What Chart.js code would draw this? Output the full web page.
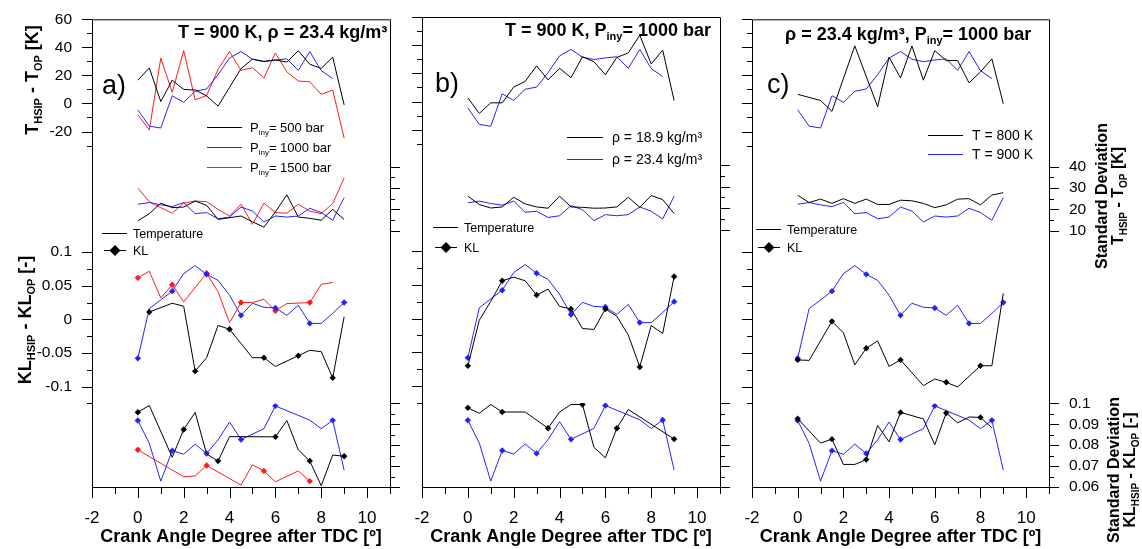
<!DOCTYPE html>
<html>
<head>
<meta charset="utf-8">
<script src="https://cdn.jsdelivr.net/npm/chart.js@4"></script>
<style>
  html, body { margin: 0; padding: 0; background: #fff; }
  #wrap { position: relative; width: 1142px; height: 549px; }
  #wrap canvas { position: absolute; left: 0; top: 0; }
</style>
</head>
<body>
<div id="wrap">
  <canvas id="panelA" width="1142" height="549"></canvas>
  <canvas id="panelB" width="1142" height="549"></canvas>
  <canvas id="panelC" width="1142" height="549"></canvas>
</div>
<script>
// tick positions and labelled ticks
var X_TICKS = [-2, -1, 0, 1, 2, 3, 4, 5, 6, 7, 8, 9, 10, 11];
var X_LABELS = [-2, 0, 2, 4, 6, 8, 10];
var TM_TICKS = [-30, -20, -10, 0, 10, 20, 30, 40, 50, 60];
var TM_LABELS = [-20, 0, 20, 40, 60];
var TS_TICKS = [10, 15, 20, 25, 30, 35, 40];
var TS_LABELS = [10, 20, 30, 40];
var KM_TICKS = [-0.125, -0.1, -0.075, -0.05, -0.025, 0, 0.025, 0.05, 0.075, 0.1];
var KM_LABELS = [-0.1, -0.05, 0, 0.05, 0.1];
var KS_TICKS = [0.06, 0.065, 0.07, 0.075, 0.08, 0.085, 0.09, 0.095, 0.1];
var KS_LABELS = [0.06, 0.07, 0.08, 0.09, 0.1];

// crank angle samples
var CAD = [0, 0.5, 1, 1.5, 2, 2.5, 3, 3.5, 4, 4.5, 5, 5.5, 6, 6.5, 7, 7.5, 8, 8.5, 9];
var CAD_85 = CAD.slice(0, 18);

// base case: T = 900 K, rho = 23.4 kg/m3, Piny = 1000 bar (blue in every panel)
var base_tMean = [-4.5, -16.2, -17.5, 5.5, 0.8, 8.7, 10.3, 20.5, 32.4, 37, 31.5, 29.8, 31, 31.8, 23.6, 37, 23.4, 17.8];
var base_tStd = [22.4, 23.2, 22.1, 21.3, 23.2, 18, 18.5, 15.6, 16.4, 21.1, 19.2, 14.1, 16.9, 16.4, 16.9, 20.5, 18.5, 14.9, 25.5];
var base_klMean = [-0.058, 0.016, 0.029, 0.042, 0.068, 0.08, 0.067, 0.058, 0.036, 0.006, 0.024, 0.018, 0.017, 0.006, 0.021, -0.006, -0.006, 0.009, 0.025];
var base_klMeanMarks = [0, 1.5, 3, 4.5, 6, 7.5, 9];
var base_klStdX = [0, 0.5, 1, 1.5, 2, 2.5, 3, 3.5, 4, 4.5, 5.5, 6, 7.5, 8, 8.5, 9];
var base_klStd = [0.0918, 0.0809, 0.0628, 0.0774, 0.0757, 0.0805, 0.076, 0.0826, 0.0911, 0.0827, 0.0879, 0.0988, 0.092, 0.0879, 0.0919, 0.068];
var base_klStdMarks = [0, 1.5, 3, 4.5, 6, 8.5];

// a) Piny = 500 bar
var p500_tMean = [16.6, 25.3, 1.4, 16.6, 10, 9.6, 5.4, -1.9, 11.5, 24.8, 31.6, 30, 31, 29.5, 37.6, 28, 25, 33, -1];
var p500_tStd = [14.6, 18, 22.9, 20.8, 21.1, 23.9, 21.9, 15.3, 16.1, 16.9, 14.2, 11.7, 18.8, 26.8, 16.4, 15.8, 14.9, 20, 15.3];
var p500_klMeanX = [0.5, 1.5, 2, 2.5, 3, 3.5, 4, 5, 5.5, 6, 7, 7.5, 8, 8.5, 9];
var p500_klMean = [0.011, 0.024, 0.0196, -0.077, -0.057, -0.009, -0.0147, -0.057, -0.057, -0.07, -0.054, -0.046, -0.048, -0.087, 0.004];
var p500_klMeanMarks = [0.5, 2.5, 4, 5.5, 7, 8.5];
var p500_klStdX = [0, 0.5, 1.5, 2, 2.5, 3, 3.5, 4, 6, 6.5, 7, 7.5, 8, 8.5, 9];
var p500_klStd = [0.0958, 0.099, 0.0742, 0.0875, 0.0957, 0.0758, 0.0724, 0.0841, 0.084, 0.0918, 0.0777, 0.0725, 0.0606, 0.0753, 0.0747];
var p500_klStdMarks = [0, 2, 3.5, 6, 7.5, 9];

// a) Piny = 1500 bar
var p1500_tMean = [-8, -19, 32.3, 8, 37.7, 2.6, 5.6, 24.3, 37, 23.6, 25.5, 18.2, 36, 22.5, 16, 15.4, 6.5, 9.6, -24.8];
var p1500_tStd = [29.9, 23.6, 20.8, 18.2, 22.9, 23.9, 23.6, 20, 16.9, 22.4, 13, 22.9, 18.5, 18.2, 22.4, 19.2, 18, 22.7, 34.6];
var p1500_klMeanX = [0, 0.5, 1, 1.5, 2, 3, 3.5, 4, 4.5, 5, 5.5, 6, 6.5, 7.5, 8, 8.5];
var p1500_klMean = [0.0618, 0.0716, 0.032, 0.0515, 0.026, 0.0686, 0.041, -0.005, 0.025, 0.025, 0.03, 0.0127, 0.0235, 0.025, 0.052, 0.055];
var p1500_klMeanMarks = [0, 1.5, 3, 4.5, 6, 7.5];
var p1500_klStdX = [0, 2, 2.5, 3, 4.5, 5, 5.5, 6, 7, 7.5];
var p1500_klStd = [0.0778, 0.0649, 0.0653, 0.0703, 0.0609, 0.0706, 0.0677, 0.0625, 0.0677, 0.0628];
var p1500_klStdMarks = [0, 3, 5.5, 7.5];

// b) rho = 18.9 kg/m3
var r189_tMean = [2.6, -8.4, -0.9, -0.9, 10.3, 14.3, 25.3, 15.4, 23.6, 17, 31.8, 28.3, 19, 31.3, 34.6, 47, 26.7, 36.5, 0.7];
var r189_tStd = [25.5, 21.6, 20, 20.5, 25, 21.9, 20.5, 19.9, 25.5, 20.5, 20.3, 19.9, 20, 20.5, 25, 20.3, 25.8, 23.9, 17.4];
var r189_klMean = [-0.07, -0.0025, 0.0255, 0.0559, 0.0613, 0.0559, 0.0348, 0.0436, 0.018, 0.0142, -0.0147, -0.0162, 0.0142, 0.0034, -0.0245, -0.0716, -0.0103, -0.022, 0.0623];
var r189_klMeanMarks = [0, 1.5, 3, 4.5, 6, 7.5, 9];
var r189_klStdX = [0, 0.5, 1, 1.5, 2.5, 3.5, 4, 4.5, 5, 5.5, 6, 6.5, 7, 9];
var r189_klStd = [0.0977, 0.0951, 0.0993, 0.0957, 0.0957, 0.088, 0.0957, 0.0993, 0.0993, 0.0789, 0.0739, 0.088, 0.0969, 0.0828];
var r189_klStdMarks = [0, 1.5, 3.5, 5, 6.5, 9];

// c) T = 800 K
var t800_tMeanX = [0, 1, 1.5, 2.5, 3.5, 4, 4.5, 5, 5.5, 6, 6.5, 7, 7.5, 8, 8.5, 9];
var t800_tMean = [6.5, 2.1, -5.6, 41, -2.3, 33, 18.2, 41, 16.6, 37.7, 30.6, 30.6, 14.7, 22.5, 31.8, -0.2];
var t800_tStd = [26.6, 23.2, 24.8, 22.8, 25, 22.8, 24.8, 22.3, 22.3, 24.3, 24, 22.8, 20.8, 22.1, 24.8, 25, 22.1, 26.7, 27.8];
var t800_klMeanX = [0, 0.5, 1.5, 2, 2.5, 3, 3.5, 4, 4.5, 5.5, 6, 6.5, 7, 8, 8.5, 9];
var t800_klMean = [-0.0603, -0.061, -0.0029, -0.02, -0.0676, -0.043, -0.032, -0.07, -0.0603, -0.0985, -0.0887, -0.0936, -0.1005, -0.069, -0.069, 0.0387];
var t800_klMeanMarks = [0, 1.5, 3, 4.5, 6.5, 8];
var t800_klStdX = [0, 1, 1.5, 2, 2.5, 3, 3.5, 4, 4.5, 5.5, 6, 6.5, 7, 7.5, 8, 8.5];
var t800_klStd = [0.0927, 0.081, 0.0829, 0.0708, 0.0708, 0.0731, 0.0894, 0.0816, 0.0957, 0.0926, 0.0802, 0.0954, 0.0907, 0.0935, 0.0933, 0.0883];
var t800_klStdMarks = [0, 1.5, 3, 4.5, 6.5, 8];

var FONT = '"Liberation Sans", Arial, sans-serif';
var BLACK = "#000000";
var BLUE = "#2323ff";
var RED = "#ff1a1a";

function line(xs, ys, color, axis, marks) {
  return {
    data: xs.map(function (x, i) { return { x: x, y: ys[i] }; }),
    borderColor: color,
    backgroundColor: color,
    borderWidth: 1,
    tension: 0,
    yAxisID: axis,
    pointStyle: "rectRot",
    pointRadius: xs.map(function (x) { return marks && marks.indexOf(x) >= 0 ? 3.2 : 0; }),
    pointBorderWidth: 0
  };
}

function fmt(v) {
  return String(Math.round(v * 1000) / 1000);
}

// the four sub-plots share one frame: each side holds a vertical stack of axes
function yAxis(pos, order, min, max, share, ticks, labels, show) {
  return {
    type: "linear",
    position: pos,
    stack: pos,
    stackWeight: share,
    weight: order,
    min: min,
    max: max,
    afterBuildTicks: function (s) {
      s.ticks = (ticks || [min, max]).map(function (v) { return { value: v }; });
    },
    afterFit: function (s) { s.width = 80; },
    grid: { drawOnChartArea: false, tickLength: 10, tickColor: "rgba(0,0,0,0)" },
    border: { display: false },
    ticks: {
      display: !!show,
      autoSkip: false,
      padding: 10,
      color: "#000",
      font: { family: FONT, size: 15.5 },
      callback: function (v) { return labels.indexOf(v) >= 0 ? fmt(v) : ""; }
    }
  };
}

var MARKS = {
  x: [X_TICKS, X_LABELS],
  yTm: [TM_TICKS, TM_LABELS],
  yKm: [KM_TICKS, KM_LABELS],
  yTs: [TS_TICKS, TS_LABELS],
  yKs: [KS_TICKS, KS_LABELS]
};

// frame around the plot area plus major/minor tick marks
var frame = {
  id: "frame",
  afterDraw: function (chart) {
    var ctx = chart.ctx, a = chart.chartArea;
    ctx.save();
    ctx.strokeStyle = "#000";
    ctx.lineWidth = 1;
    ctx.beginPath();
    Object.keys(MARKS).forEach(function (id) {
      var s = chart.scales[id];
      MARKS[id][0].forEach(function (v) {
        var big = MARKS[id][1].indexOf(v) >= 0;
        var p = Math.round(s.getPixelForValue(v)) + 0.5;
        if (id === "x") {
          var len = big ? 11 : 7;
          ctx.moveTo(p, a.bottom); ctx.lineTo(p, a.bottom + len);
        } else if (s.position === "left") {
          ctx.moveTo(a.left - (big ? 10 : 5), p); ctx.lineTo(a.left, p);
        } else {
          ctx.moveTo(a.right, p); ctx.lineTo(a.right + (big ? 10 : 5), p);
        }
      });
    });
    ctx.rect(a.left + 0.5, a.top + 0.5, a.right - a.left, a.bottom - a.top);
    ctx.stroke();
    ctx.restore();
  }
};

// text runs with sub/superscripts: [text, size, bold, shift]
function txt(ctx, parts, x, y, align) {
  var w = 0;
  parts.forEach(function (p) {
    ctx.font = (p[2] ? "bold " : "") + p[1] + "px " + FONT;
    w += ctx.measureText(p[0]).width;
  });
  var cx = align === "center" ? x - w / 2 : x;
  parts.forEach(function (p) {
    ctx.font = (p[2] ? "bold " : "") + p[1] + "px " + FONT;
    ctx.fillText(p[0], cx, y + (p[3] || 0));
    cx += ctx.measureText(p[0]).width;
  });
}

function vtxt(ctx, parts, x, y) {
  ctx.save();
  ctx.translate(x, y);
  ctx.rotate(-Math.PI / 2);
  txt(ctx, parts, 0, 0, "center");
  ctx.restore();
}

// legend sample line
function key(ctx, x1, x2, y, color) {
  ctx.save();
  ctx.fillStyle = color;
  ctx.fillRect(x1, y, x2 - x1, 1);
  ctx.restore();
}

function diamond(ctx, x, y, r) {
  ctx.beginPath();
  ctx.moveTo(x, y - r); ctx.lineTo(x + r, y); ctx.lineTo(x, y + r); ctx.lineTo(x - r, y);
  ctx.closePath();
  ctx.fill();
}

// "Temperature" / "KL" key, shared by all panels
function typeKey(ctx, x, y1, y2) {
  key(ctx, x, x + 25, y1, BLACK);
  key(ctx, x + 2, x + 24, y2, BLACK);
  ctx.fillStyle = "#000";
  diamond(ctx, x + 13, y2 + 0.5, 5.5);
  txt(ctx, [["Temperature", 12.5]], x + 31, y1 + 4.5);
  txt(ctx, [["KL", 12.5]], x + 31, y2 + 4.5);
}

function notesA(ctx) {
  ctx.save();
  ctx.fillStyle = "#000";
  txt(ctx, [["T = 900 K, \u03c1 = 23.4 kg/m\u00b3", 18, true]], 178, 38);
  txt(ctx, [["a)", 27]], 102, 94);
  var rows = [[127, BLACK, "= 500 bar"], [147, BLUE, "= 1000 bar"], [167, RED, "= 1500 bar"]];
  rows.forEach(function (r) {
    key(ctx, 207, 242, r[0], r[1]);
    ctx.fillStyle = "#000";
    txt(ctx, [["P", 13], ["iny", 8, false, 3], [r[2], 13]], 250, r[0] + 4.5);
  });
  typeKey(ctx, 102, 233, 250);
  ctx.fillStyle = "#000";
  vtxt(ctx, [["T", 18, true], ["HSIP", 11, true, 4], [" - T", 18, true], ["OP", 11, true, 4], [" [K]", 18, true]], 38, 80);
  vtxt(ctx, [["KL", 18, true], ["HSIP", 11, true, 4], [" - KL", 18, true], ["OP", 11, true, 4], [" [-]", 18, true]], 31, 320);
  ctx.restore();
}

function notesB(ctx) {
  ctx.save();
  ctx.fillStyle = "#000";
  txt(ctx, [["T = 900 K, P", 18, true], ["iny", 11, true, 4], ["= 1000 bar", 18, true]], 505, 36);
  txt(ctx, [["b)", 27]], 435, 92);
  key(ctx, 567, 603, 137, BLACK);
  key(ctx, 567, 603, 159, BLUE);
  ctx.fillStyle = "#000";
  txt(ctx, [["\u03c1 = 18.9 kg/m\u00b3", 14]], 612, 142);
  txt(ctx, [["\u03c1 = 23.4 kg/m\u00b3", 14]], 612, 164);
  typeKey(ctx, 433, 227, 247);
  ctx.restore();
}

function notesC(ctx) {
  ctx.save();
  ctx.fillStyle = "#000";
  txt(ctx, [["\u03c1 = 23.4 kg/m\u00b3, P", 18, true], ["iny", 11, true, 4], ["= 1000 bar", 18, true]], 785, 40);
  txt(ctx, [["c)", 27]], 767, 93);
  key(ctx, 928, 963, 135, BLACK);
  key(ctx, 928, 963, 154, BLUE);
  ctx.fillStyle = "#000";
  txt(ctx, [["T = 800 K", 14]], 972, 140);
  txt(ctx, [["T = 900 K", 14]], 972, 159);
  typeKey(ctx, 756, 229, 247);
  ctx.fillStyle = "#000";
  vtxt(ctx, [["Standard Deviation", 16, true]], 1107, 196);
  vtxt(ctx, [["T", 16, true], ["HSIP", 10, true, 3.5], [" - T", 16, true], ["OP", 10, true, 3.5], [" [K]", 16, true]], 1123, 196);
  vtxt(ctx, [["Standard Deviation", 16, true]], 1119, 470);
  vtxt(ctx, [["KL", 16, true], ["HSIP", 10, true, 3.5], [" - KL", 16, true], ["OP", 10, true, 3.5], [" [-]", 16, true]], 1135, 470);
  ctx.restore();
}

function panel(id, padLeft, padRight, datasets, showLeft, showRight, notes) {
  return new Chart(document.getElementById(id), {
    type: "line",
    data: { datasets: datasets },
    options: {
      responsive: false,
      animation: false,
      devicePixelRatio: 1,
      layout: { padding: { left: padLeft, right: padRight, top: 17, bottom: 0 } },
      plugins: { legend: { display: false }, tooltip: { enabled: false } },
      scales: {
        x: {
          type: "linear",
          min: -2,
          max: 11,
          afterBuildTicks: function (s) {
            s.ticks = X_TICKS.map(function (v) { return { value: v }; });
          },
          afterFit: function (s) { s.height = 62; },
          grid: { drawOnChartArea: false, tickLength: 10, tickColor: "rgba(0,0,0,0)" },
          border: { display: false },
          ticks: {
            padding: 11,
            autoSkip: false,
            maxRotation: 0,
            color: "#000",
            font: { family: FONT, size: 17 },
            callback: function (v) { return X_LABELS.indexOf(v) >= 0 ? String(v) : ""; }
          },
          title: {
            display: true,
            text: "Crank Angle Degree after TDC [\u00ba]",
            color: "#000",
            font: { family: FONT, size: 18, weight: "bold" },
            padding: { top: 0, bottom: 1 }
          }
        },
        yTm: yAxis("left", 4, -45, 60, 148, TM_TICKS, TM_LABELS, showLeft),
        yTsL: yAxis("left", 3, 0, 40, 86, null, [], false),
        yKm: yAxis("left", 2, -0.125, 0.1, 152, KM_TICKS, KM_LABELS, showLeft),
        yKsL: yAxis("left", 1, 0.06, 0.1, 84, null, [], false),
        yTmR: yAxis("right", 1, -45, 60, 148, null, [], false),
        yTs: yAxis("right", 2, 0, 40, 86, TS_TICKS, TS_LABELS, showRight),
        yKmR: yAxis("right", 3, -0.125, 0.1, 152, null, [], false),
        yKs: yAxis("right", 4, 0.06, 0.1, 84, KS_TICKS, KS_LABELS, showRight)
      }
    },
    plugins: [frame, { id: "notes", afterDraw: function (chart) { notes(chart.ctx); } }]
  });
}

// blue base case, repeated in every panel
function baseLines() {
  return [
    line(CAD_85, base_tMean, BLUE, "yTm"),
    line(CAD, base_tStd, BLUE, "yTs"),
    line(CAD, base_klMean, BLUE, "yKm", base_klMeanMarks),
    line(base_klStdX, base_klStd, BLUE, "yKs", base_klStdMarks)
  ];
}

// a) injection pressure
panel("panelA", 12, 672, [
  line(CAD, p500_tMean, BLACK, "yTm"),
  line(CAD, p500_tStd, BLACK, "yTs"),
  line(p500_klMeanX, p500_klMean, BLACK, "yKm", p500_klMeanMarks),
  line(p500_klStdX, p500_klStd, BLACK, "yKs", p500_klStdMarks)
].concat(baseLines()).concat([
  line(CAD, p1500_tMean, RED, "yTm"),
  line(CAD, p1500_tStd, RED, "yTs"),
  line(p1500_klMeanX, p1500_klMean, RED, "yKm", p1500_klMeanMarks),
  line(p1500_klStdX, p1500_klStd, RED, "yKs", p1500_klStdMarks)
]), true, false, notesA);

// b) ambient density
panel("panelB", 342, 342, [
  line(CAD, r189_tMean, BLACK, "yTm"),
  line(CAD, r189_tStd, BLACK, "yTs"),
  line(CAD, r189_klMean, BLACK, "yKm", r189_klMeanMarks),
  line(r189_klStdX, r189_klStd, BLACK, "yKs", r189_klStdMarks)
].concat(baseLines()), false, false, notesB);

// c) ambient temperature
panel("panelC", 672, 13, [
  line(t800_tMeanX, t800_tMean, BLACK, "yTm"),
  line(CAD, t800_tStd, BLACK, "yTs"),
  line(t800_klMeanX, t800_klMean, BLACK, "yKm", t800_klMeanMarks),
  line(t800_klStdX, t800_klStd, BLACK, "yKs", t800_klStdMarks)
].concat(baseLines()), false, true, notesC);
</script>
</body>
</html>
